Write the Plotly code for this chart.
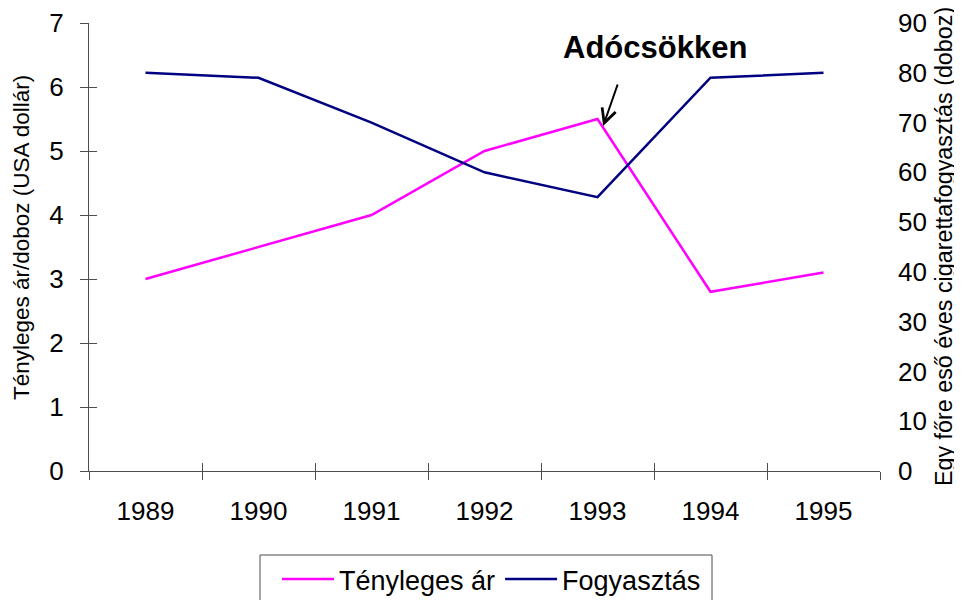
import plotly.graph_objects as go

years = ["1989", "1990", "1991", "1992", "1993", "1994", "1995"]
price = [3.0, 3.5, 4.0, 5.0, 5.5, 2.8, 3.1]
consumption = [80, 79, 70, 60, 55, 79, 80]

left_ticks = list(range(0, 8))
right_ticks = list(range(0, 100, 10))

FONT = "Liberation Sans, Arial, sans-serif"
AXC = "#4d4d4d"

# the page body adds an 8px offset; the figure is sized so the page is 962x600
W, H = 954, 592


def px_x(p):
    return (p - 89) / 791


def px_y(p):
    return (471 - p) / 448


fig = go.Figure()
fig.add_trace(go.Scatter(x=years, y=price, mode="lines", name="Tényleges ár",
                         line=dict(color="#FF00FF", width=2.5), xaxis="x", yaxis="y"))
fig.add_trace(go.Scatter(x=years, y=consumption, mode="lines", name="Fogyasztás",
                         line=dict(color="#000080", width=2.5), xaxis="x", yaxis="y2"))
# empty helper trace so that inside-tick overlay axes are drawn
fig.add_trace(go.Scatter(x=[], y=[], xaxis="x3", yaxis="y3", showlegend=False, hoverinfo="skip"))

fig.update_layout(
    width=W, height=H,
    margin=dict(l=81, r=82, t=15, b=129, autoexpand=False),
    paper_bgcolor="white", plot_bgcolor="white",
    font=dict(family=FONT, color="black", size=26),
    xaxis=dict(type="category", categoryorder="array", categoryarray=years,
               range=[-0.5, 6.5], tickson="boundaries", ticks="outside", ticklen=8,
               tickcolor=AXC, tickwidth=1, showline=True, linecolor=AXC, linewidth=1,
               showgrid=False, zeroline=False, tickfont=dict(size=26),
               ticklabelstandoff=17),
    xaxis3=dict(overlaying="x", anchor="y", range=[-0.5, 6.5],
                tickvals=[i - 0.5 for i in range(8)], ticks="inside", ticklen=8,
                tickcolor=AXC, tickwidth=1, showticklabels=False, showline=False,
                showgrid=False, zeroline=False),
    yaxis=dict(range=[0, 7], tickvals=left_ticks, ticks="outside", ticklen=8,
               tickcolor=AXC, tickwidth=1, showline=True, linecolor=AXC, linewidth=1,
               showgrid=False, zeroline=False, tickfont=dict(size=26),
               ticklabelstandoff=11),
    yaxis3=dict(overlaying="y", anchor="x", side="left", range=[0, 7], tickvals=left_ticks,
                ticks="inside", ticklen=8, tickcolor=AXC, tickwidth=1,
                showticklabels=False, showline=False, showgrid=False, zeroline=False),
    yaxis2=dict(overlaying="y", side="right", anchor="x", range=[0, 90], tickvals=right_ticks,
                ticks="", showline=False, showgrid=False, zeroline=False,
                tickfont=dict(size=26), ticklabelstandoff=17),
    legend=dict(orientation="h", x=px_x(277), xanchor="left", xref="paper",
                y=1 - 547 / H, yanchor="top", yref="container",
                itemwidth=52, borderwidth=0, font=dict(size=27),
                bgcolor="rgba(0,0,0,0)"),
    showlegend=True,
)

# legend frame (runs past the bottom edge, as in the reference)
fig.add_shape(type="rect", xref="paper", yref="paper",
              x0=px_x(260), x1=px_x(712), y0=px_y(555), y1=px_y(615),
              line=dict(color="#4d4d4d", width=1), fillcolor="rgba(0,0,0,0)", layer="below")

fig.add_annotation(text="Tényleges ár/doboz (USA dollár)", xref="paper", yref="paper",
                   x=px_x(21), y=px_y(238), textangle=-90, showarrow=False,
                   font=dict(size=22.5), xanchor="center", yanchor="middle")
fig.add_annotation(text="Egy főre eső éves cigarettafogyasztás (doboz)", xref="paper", yref="paper",
                   x=px_x(944), y=px_y(247), textangle=-90, showarrow=False,
                   font=dict(size=23.3), xanchor="center", yanchor="middle")
fig.add_annotation(text="<b>Adócsökken</b>", xref="paper", yref="paper",
                   x=px_x(655), y=px_y(48), showarrow=False,
                   font=dict(size=31), xanchor="center", yanchor="middle")
fig.add_annotation(text="", xref="x", yref="y", x=4.05, y=5.39, ax=15, ay=-43,
                   showarrow=True, arrowhead=5, arrowsize=1.4, arrowwidth=2, arrowcolor="black")

fig.write_html("out.html")
